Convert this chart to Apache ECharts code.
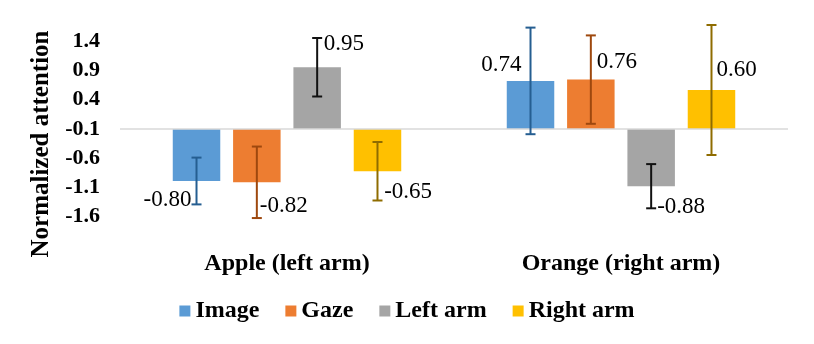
<!DOCTYPE html>
<html>
<head>
<meta charset="utf-8">
<script src="https://cdn.jsdelivr.net/npm/echarts@6/dist/echarts.min.js"></script>
<style>html,body{margin:0;padding:0;background:#fff}#c{width:814px;height:344px}</style>
</head>
<body>
<div id="c"></div>
<script>
const categories = ['Apple (left arm)', 'Orange (right arm)'];
const seriesNames = ['Image', 'Gaze', 'Left arm', 'Right arm'];
const imageVals = [-0.80, 0.74];
const gazeVals = [-0.82, 0.76];
const leftArmVals = [0.95, -0.88];
const rightArmVals = [-0.65, 0.60];
const imageErr = [0.36, 0.82];
const gazeErr = [0.55, 0.68];
const leftArmErr = [0.45, 0.34];
const rightArmErr = [0.45, 1.00];
const yTickLabels = ['-1.6', '-1.1', '-0.6', '-0.1', '0.4', '0.9', '1.4'];

const allVals = [imageVals, gazeVals, leftArmVals, rightArmVals];
const allErr = [imageErr, gazeErr, leftArmErr, rightArmErr];

// styling
const FONT = 'Liberation Serif';
const barColors = ['#5B9BD5', '#ED7D31', '#A5A5A5', '#FFC000'];
const errColors = ['#255E91', '#9E480E', '#111111', '#8F6C00'];
const BAR_W = 47.5;
const BAR_GAP = 0.27;
const TICK_STEP = 0.45;
// label placement relative to the bar end: [dx, dy, align]
const labelPlace = [
  [[-5, 19, 'right'], [-9, -16, 'right']],
  [[3, 24, 'left'], [6, -18, 'left']],
  [[6.5, -23, 'left'], [6, 21, 'left']],
  [[6.7, 21, 'left'], [5, -20, 'left']]
];

const chart = echarts.init(document.getElementById('c'));
const series = [];
seriesNames.forEach((name, k) => {
  series.push({
    name: name,
    type: 'bar',
    data: allVals[k],
    barWidth: BAR_W,
    barGap: (BAR_GAP * 100) + '%',
    itemStyle: { color: barColors[k] },
    z: 2,
    markLine: k === 0 ? {
      silent: true,
      symbol: ['none', 'none'],
      label: { show: false },
      lineStyle: { color: '#D9D9D9', width: 1.5, type: 'solid' },
      data: [{ yAxis: 0 }]
    } : undefined
  });
  series.push({
    type: 'custom',
    name: name,
    clip: false,
    z: 5,
    data: categories.map((c, i) => [i, allVals[k][i], allErr[k][i]]),
    renderItem: function (params, api) {
      const idx = api.value(0), val = api.value(1), err = api.value(2);
      const step = BAR_W * (1 + BAR_GAP);
      const dx = (k - 1.5) * step;
      const pHi = api.coord([idx, val + err]);
      const pLo = api.coord([idx, val - err]);
      const pV = api.coord([idx, val]);
      const x = pV[0] + dx;
      const cap = 5;
      const ls = { stroke: errColors[k], lineWidth: 2 };
      const lp = labelPlace[k][idx];
      return {
        type: 'group',
        children: [
          { type: 'line', shape: { x1: x, y1: pHi[1], x2: x, y2: pLo[1] }, style: ls },
          { type: 'line', shape: { x1: x - cap, y1: pHi[1], x2: x + cap, y2: pHi[1] }, style: ls },
          { type: 'line', shape: { x1: x - cap, y1: pLo[1], x2: x + cap, y2: pLo[1] }, style: ls },
          { type: 'text', x: x + lp[0], y: pV[1] + lp[1], style: {
              text: val.toFixed(2), textAlign: lp[2], textVerticalAlign: 'middle',
              fontFamily: FONT, fontSize: 23, fill: '#000' } }
        ]
      };
    }
  });
});

chart.setOption({
  animation: false,
  grid: { left: 120, right: 26, top: 41.25, height: 175.5 },
  legend: {
    data: seriesNames,
    bottom: 16,
    left: 'center',
    icon: 'rect',
    itemWidth: 11,
    itemHeight: 11,
    itemGap: 26,
    textStyle: { fontFamily: FONT, fontSize: 24, fontWeight: 'bold', color: '#000' }
  },
  xAxis: {
    type: 'category',
    data: categories,
    axisLine: { show: false },
    axisTick: { show: false },
    axisLabel: { margin: 35, fontFamily: FONT, fontSize: 24, fontWeight: 'bold', color: '#000' }
  },
  yAxis: {
    type: 'value',
    min: -3 * TICK_STEP,
    max: 3 * TICK_STEP,
    interval: TICK_STEP,
    name: 'Normalized attention',
    nameLocation: 'middle',
    nameGap: 64,
    nameTextStyle: { fontFamily: FONT, fontSize: 25, fontWeight: 'bold', color: '#000', padding: [0, 30, 0, 0] },
    splitLine: { show: false },
    axisLine: { show: false },
    axisTick: { show: false },
    axisLabel: {
      margin: 20,
      fontFamily: FONT, fontSize: 22, fontWeight: 'bold', color: '#000',
      formatter: function (v) { return yTickLabels[Math.round(v / TICK_STEP) + 3]; }
    }
  },
  series: series
});
</script>
</body>
</html>
